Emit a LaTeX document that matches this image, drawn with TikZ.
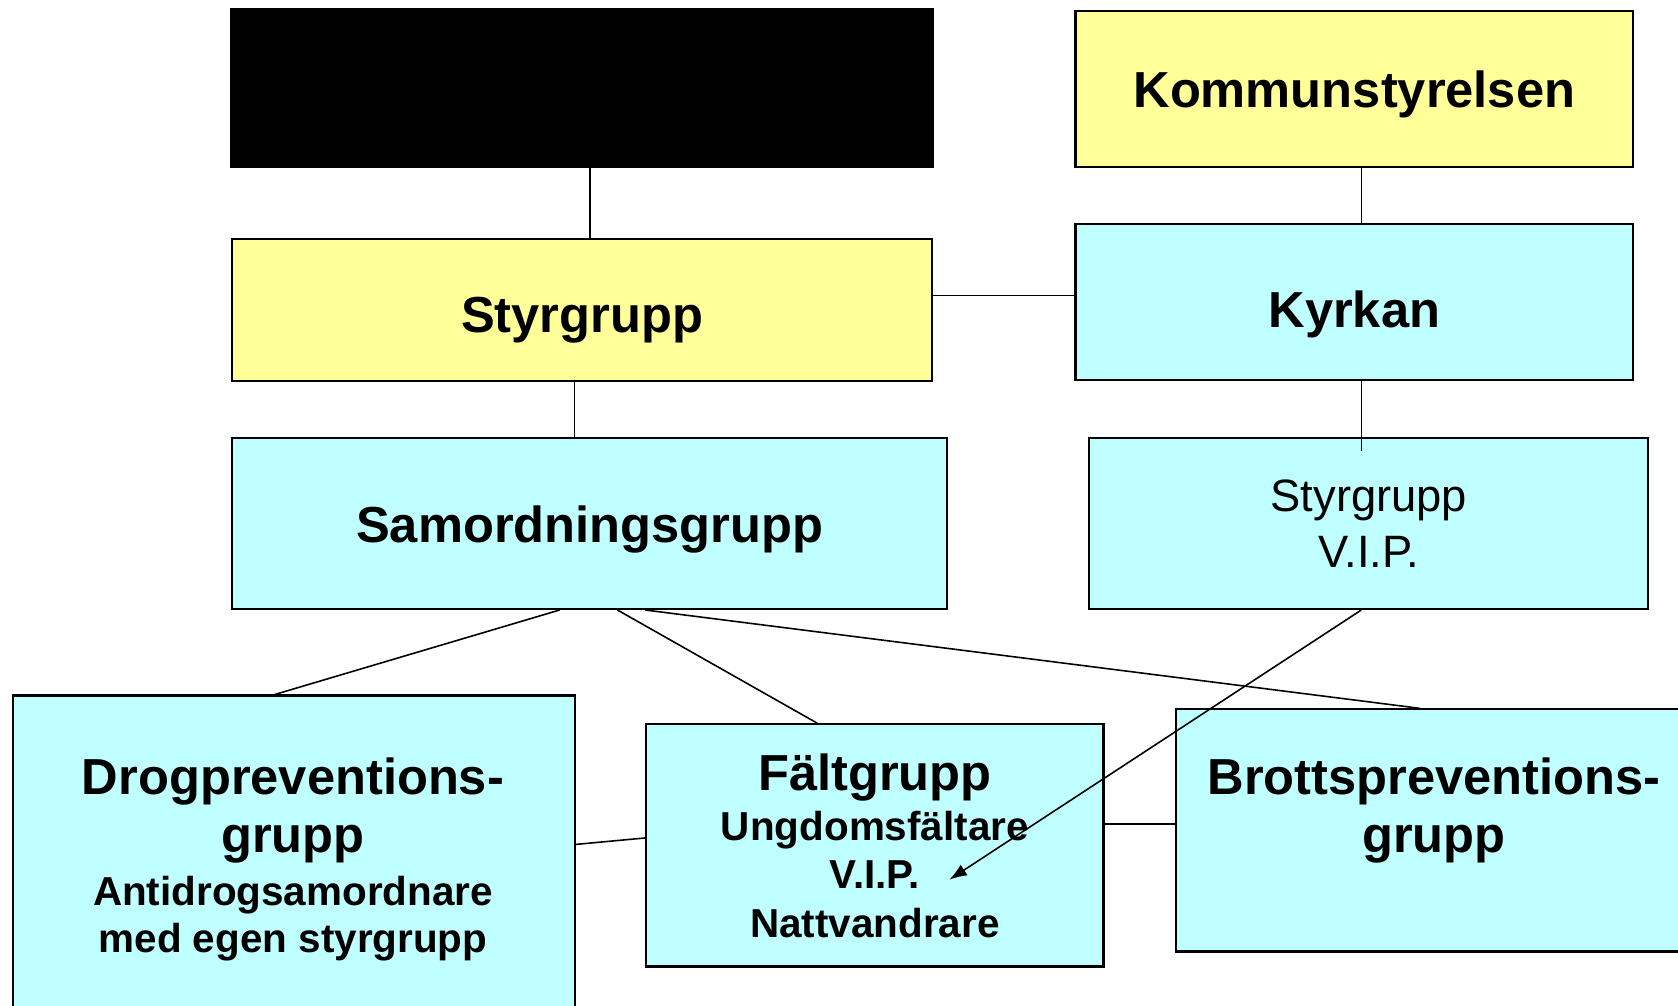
\documentclass[tikz,border=0pt]{standalone}
\usepackage{fontspec}
\setmainfont{Liberation Sans}
\usepackage{tikz}
\usetikzlibrary{positioning,calc,arrows.meta}

\definecolor{boxyellow}{HTML}{FFFF99}
\definecolor{boxcyan}{HTML}{C0FFFF}
\newcommand{\bigtxt}{\fontsize{14.4}{16.5}\selectfont\bfseries}
\newcommand{\smalltxt}{\fontsize{11.5}{13.8}\selectfont\bfseries}
\newcommand{\plaintxt}{\fontsize{12.9}{16}\selectfont}

\begin{document}
\begin{tikzpicture}[x=0.01cm, y=-0.01cm,
  box/.style={draw, line width=0.6pt, inner sep=0pt, align=center},
  ybox/.style={box, fill=boxyellow},
  cbox/.style={box, fill=boxcyan},
  txt/.style={anchor=north, align=center, inner sep=0pt, font=\bigtxt},
  conn/.style={line width=0.45pt}]
\path[use as bounding box, clip] (0,0) rectangle (1678,1006);

% top row
\node[box, fill=black, minimum width=7.02cm, minimum height=1.574cm] (hidden) at (582.2,88.3) {};
\node[ybox, minimum width=5.575cm, minimum height=1.563cm, font=\bigtxt,
  text height=10.5pt, text depth=0pt] (kommun) at (1354.35,88.85) {Kommunstyrelsen};

% second row
\node[ybox, minimum width=6.999cm, minimum height=1.423cm, font=\bigtxt,
  text height=12.6pt, text depth=0pt] (styr) at (582.15,309.85) {Styrgrupp};
\node[cbox, minimum width=5.575cm, minimum height=1.562cm, font=\bigtxt,
  text height=14.4pt, text depth=0pt] (kyrkan) at (1354.35,301.8) {Kyrkan};

% third row
\node[cbox, minimum width=7.149cm, minimum height=1.712cm, font=\bigtxt,
  text height=11.2pt, text depth=0pt] (samord) at (589.65,523.3) {Samordningsgrupp};
\node[cbox, minimum width=5.586cm, minimum height=1.712cm, font=\plaintxt] (vip) at (1368.8,523.3) {Styrgrupp\\V.I.P.};

% bottom row
\node[cbox, minimum width=5.619cm, minimum height=3.344cm] (drog) at (293.75,862.8) {};
\node[cbox, minimum width=4.57cm, minimum height=2.419cm, font=\smalltxt] (falt) at (874.9,845.45)
  {{\bigtxt F\"altgrupp}\\[0.4pt]Ungdomsf\"altare\\V.I.P.\\Nattvandrare};
\node[cbox, minimum width=5.239cm, minimum height=2.419cm] (brott) at (1438.05,830.45) {};

\node[txt] (drogtxt) at (293,757)
  {Drogpreventions-\\grupp\\[-1.4pt]{\smalltxt Antidrogsamordnare}\\[-3.1pt]{\smalltxt med egen styrgrupp}};
\node[txt] (brotttxt) at (1434,757) {Brottspreventions-\\grupp};

% connectors
\draw[conn] ([xshift=0.078cm]hidden.south) -- ([xshift=0.078cm]hidden.south |- styr.north);
\draw[conn] ([xshift=0.07cm]kommun.south) -- ([xshift=0.07cm]kommun.south |- kyrkan.north);
\draw[conn] ([yshift=0.064cm]kyrkan.west -| styr.east) -- ([yshift=0.064cm]kyrkan.west);
\draw[conn] ([xshift=-0.075cm]styr.south) -- ([xshift=-0.075cm]styr.south |- samord.north);
\draw[conn] ([xshift=0.07cm]kyrkan.south) -- ([xshift=0.07cm,yshift=-0.14cm]kyrkan.south |- vip.north);
\draw[conn] ([xshift=-0.30cm]samord.south) -- ([xshift=-0.188cm]drog.north);
\draw[conn] ([xshift=0.278cm]samord.south) -- ([xshift=-0.573cm]falt.north);
\draw[conn] ([xshift=0.556cm]samord.south) -- ([xshift=-0.178cm]brott.north);
\draw[conn] ([yshift=0.184cm]drog.east) -- ([yshift=0.075cm]falt.west);
\draw[conn] ([yshift=0.214cm]falt.east) -- ([yshift=0.214cm]falt.east -| brott.west);
\draw[conn, -{Latex[length=5pt,width=3.6pt]}] ([xshift=-0.075cm]vip.south) -- ([xshift=0.744cm,yshift=-0.342cm]falt.center);
\end{tikzpicture}
\end{document}
